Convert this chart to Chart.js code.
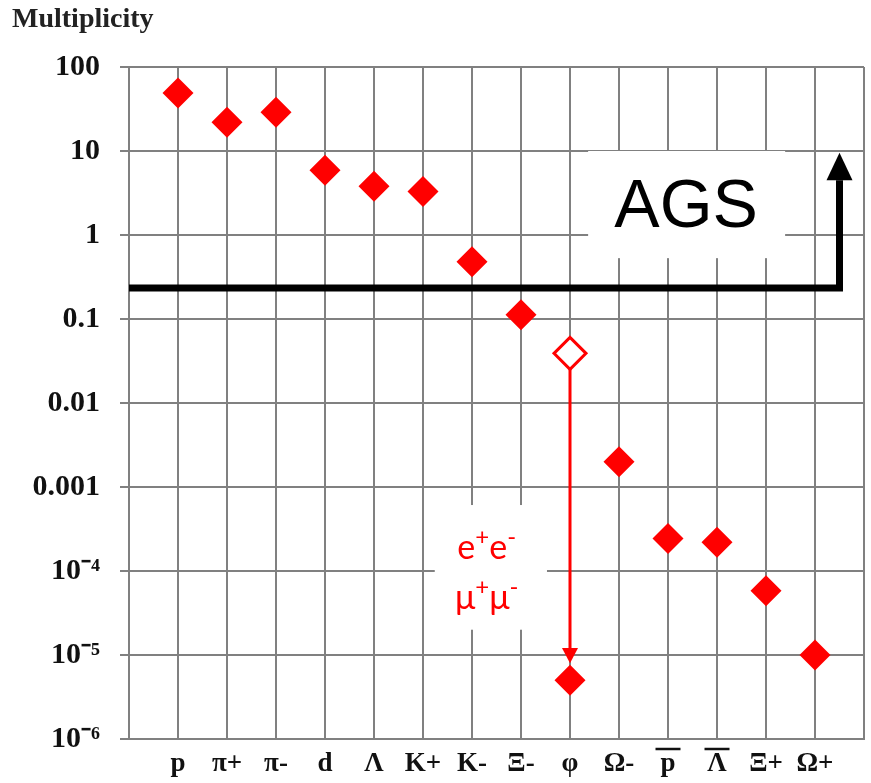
<!DOCTYPE html>
<html><head><meta charset="utf-8">
<script src="https://cdn.jsdelivr.net/npm/chart.js@4.4.1/dist/chart.umd.min.js"></script>
<style>html,body{margin:0;padding:0;background:#fff}</style>
</head><body>
<canvas id="c" width="871" height="783"></canvas>
<script>
// ---- data ----
const categories = ['p','π+','π-','d','Λ','K+','K-','Ξ-','φ','Ω-','p\u0305','Λ\u0305','Ξ+','Ω+'];
const multiplicity = [49, 22, 29, 5.9, 3.8, 3.3, 0.48, 0.112, 5.0e-6, 0.0020, 2.43e-4, 2.2e-4, 5.8e-5, 1.0e-5];
const phiOpenValue = 0.039;          // phi before dilepton branching
const phiArrowEnd = 1.21e-5;         // red arrow shaft end
const phiArrowTip = 8.0e-6;          // red arrow tip
const yTickValues = [100, 10, 1, 0.1, 0.01, 0.001, 1e-4, 1e-5, 1e-6];
const yTickLabels = ['100', '10', '1', '0.1', '0.01', '0.001', '10⁻⁴', '10⁻⁵', '10⁻⁶'];
const agsLevel = 0.234;              // AGS horizontal line level
const agsArrowX = 14.5;              // AGS arrow x position (category units)
const agsArrowEnd = 4.5;             // shaft end
const agsArrowTip = 9.5;             // arrow tip
const agsBox = {x0: 9.37, x1: 13.39, yTop: 10, yBottom: 0.53, textX: 11.37, textY: 2.1};
const dileptonBox = {x0: 6.24, x1: 8.53, yTop: 6.1e-4, yBottom: 2.0e-5, textX: 7.3, line1Y: 1.78e-4, line2Y: 4.5e-5};

const RED = '#ff0000';
const GRID = '#808080';
const OVERLINE = '\u0305';

const points = multiplicity.map((v, i) => ({x: i + 1, y: v}));
const phiIndex = categories.indexOf('φ') + 1;

function drawRich(ctx, parts, cx, cy, size, family, color) {
  const supSize = Math.round(size * 0.72);
  let total = 0;
  parts.forEach(p => {
    ctx.font = (p.sup ? supSize : size) + 'px ' + family;
    p.w = ctx.measureText(p.t).width;
    total += p.w;
  });
  let x = cx - total / 2;
  ctx.fillStyle = color;
  ctx.textAlign = 'left';
  ctx.textBaseline = 'alphabetic';
  const base = cy + size * 0.26;
  parts.forEach(p => {
    ctx.font = (p.sup ? supSize : size) + 'px ' + family;
    ctx.fillText(p.t, x, p.sup ? base - size * 0.4 : base);
    x += p.w;
  });
}

const annotations = {
  id: 'annotations',
  beforeDatasetsDraw(chart) {
    const {ctx, scales: {x, y}} = chart;
    ctx.save();
    ctx.fillStyle = '#ffffff';
    ctx.fillRect(x.getPixelForValue(agsBox.x0), y.getPixelForValue(agsBox.yTop),
      x.getPixelForValue(agsBox.x1) - x.getPixelForValue(agsBox.x0),
      y.getPixelForValue(agsBox.yBottom) - y.getPixelForValue(agsBox.yTop));
    ctx.fillRect(x.getPixelForValue(dileptonBox.x0), y.getPixelForValue(dileptonBox.yTop),
      x.getPixelForValue(dileptonBox.x1) - x.getPixelForValue(dileptonBox.x0),
      y.getPixelForValue(dileptonBox.yBottom) - y.getPixelForValue(dileptonBox.yTop));
    ctx.fillStyle = '#000';
    ctx.font = '68px "Liberation Sans", Arial, sans-serif';
    ctx.textAlign = 'center';
    ctx.textBaseline = 'middle';
    ctx.fillText('AGS', x.getPixelForValue(agsBox.textX), y.getPixelForValue(agsBox.textY));
    const fam = 'Lato, "Open Sans", sans-serif';
    drawRich(ctx, [{t: 'e'}, {t: '+', sup: true}, {t: 'e'}, {t: '-', sup: true}],
      x.getPixelForValue(dileptonBox.textX), y.getPixelForValue(dileptonBox.line1Y), 34, fam, RED);
    drawRich(ctx, [{t: 'μ'}, {t: '+', sup: true}, {t: 'μ'}, {t: '-', sup: true}],
      x.getPixelForValue(dileptonBox.textX), y.getPixelForValue(dileptonBox.line2Y), 34, fam, RED);
    ctx.restore();
  },
  afterDatasetsDraw(chart) {
    const {ctx, scales: {x, y}} = chart;
    ctx.save();
    let px = x.getPixelForValue(agsArrowX);
    let tip = y.getPixelForValue(agsArrowTip), base = y.getPixelForValue(agsArrowEnd);
    ctx.fillStyle = '#000';
    ctx.beginPath();
    ctx.moveTo(px, tip);
    ctx.lineTo(px + 13, base);
    ctx.lineTo(px - 13, base);
    ctx.closePath();
    ctx.fill();
    px = x.getPixelForValue(phiIndex);
    tip = y.getPixelForValue(phiArrowTip); base = y.getPixelForValue(phiArrowEnd);
    ctx.fillStyle = RED;
    ctx.beginPath();
    ctx.moveTo(px, tip);
    ctx.lineTo(px + 8, base);
    ctx.lineTo(px - 8, base);
    ctx.closePath();
    ctx.fill();
    // overlines for antiparticle labels
    ctx.strokeStyle = '#111';
    ctx.lineWidth = 2.5;
    categories.forEach((c, i) => {
      if (c.includes(OVERLINE)) {
        const cx = x.getPixelForValue(i + 1);
        const yy = x.top + 10;
        ctx.beginPath();
        ctx.moveTo(cx - 12.5, yy);
        ctx.lineTo(cx + 12.5, yy);
        ctx.stroke();
      }
    });
    ctx.restore();
  }
};

new Chart(document.getElementById('c'), {
  type: 'scatter',
  data: {
    datasets: [
      {
        label: 'multiplicity',
        data: points,
        pointStyle: 'rectRot',
        pointRadius: 15.5,
        pointBackgroundColor: RED,
        pointBorderWidth: 0,
        showLine: false,
        order: 1
      },
      {
        label: 'phi open',
        data: [{x: phiIndex, y: phiOpenValue}],
        pointStyle: 'rectRot',
        pointRadius: 16,
        pointBackgroundColor: '#ffffff',
        pointBorderColor: RED,
        pointBorderWidth: 3,
        showLine: false,
        order: 0
      },
      {
        label: 'phi arrow',
        data: [{x: phiIndex, y: phiOpenValue}, {x: phiIndex, y: phiArrowEnd}],
        showLine: true,
        borderColor: RED,
        borderWidth: 3,
        pointRadius: 0,
        order: 2
      },
      {
        label: 'AGS',
        data: [{x: 0, y: agsLevel}, {x: agsArrowX, y: agsLevel}, {x: agsArrowX, y: agsArrowEnd}],
        showLine: true,
        borderColor: '#000',
        borderWidth: 7,
        borderJoinStyle: 'miter',
        borderCapStyle: 'butt',
        pointRadius: 0,
        order: 3
      }
    ]
  },
  options: {
    responsive: false,
    animation: false,
    events: [],
    layout: {autoPadding: false, padding: {left: 12, right: 7, top: 0, bottom: 0}},
    plugins: {
      legend: {display: false},
      tooltip: {enabled: false},
      title: {
        display: true,
        text: 'Multiplicity',
        align: 'start',
        color: '#222',
        font: {family: '"Liberation Serif", "Times New Roman", serif', weight: 'bold', size: 28},
        padding: {top: 3, bottom: 30.4}
      }
    },
    scales: {
      x: {
        type: 'linear',
        min: 0,
        max: categories.length + 1,
        afterBuildTicks: s => { s.ticks = Array.from({length: categories.length + 2}, (_, i) => ({value: i})); },
        afterFit: s => { s.height = 44; s.paddingLeft = 0; s.paddingRight = 0; },
        ticks: {
          autoSkip: false,
          maxRotation: 0,
          padding: 9,
          color: '#111',
          font: {family: '"Liberation Serif", "Times New Roman", serif', weight: 'bold', size: 27},
          callback: v => (v >= 1 && v <= categories.length) ? categories[v - 1].replace(OVERLINE, '') : ''
        },
        grid: {color: GRID, lineWidth: 2, drawTicks: false},
        border: {color: GRID, width: 2}
      },
      y: {
        type: 'logarithmic',
        min: 1e-6,
        max: 100,
        afterBuildTicks: s => { s.ticks = yTickValues.map(v => ({value: v})); },
        afterFit: s => { s.width = 117; s.paddingLeft = 0; s.paddingRight = 0; s.paddingTop = 0; s.paddingBottom = 0; },
        ticks: {
          autoSkip: false,
          padding: 20,
          color: '#111',
          font: {family: '"Liberation Serif", "Times New Roman", serif', weight: 'bold', size: 30},
          callback: (v, i) => yTickLabels[i]
        },
        grid: {color: GRID, lineWidth: 2, tickLength: 9},
        border: {color: GRID, width: 2}
      }
    }
  },
  plugins: [annotations]
});
</script>
</body></html>
